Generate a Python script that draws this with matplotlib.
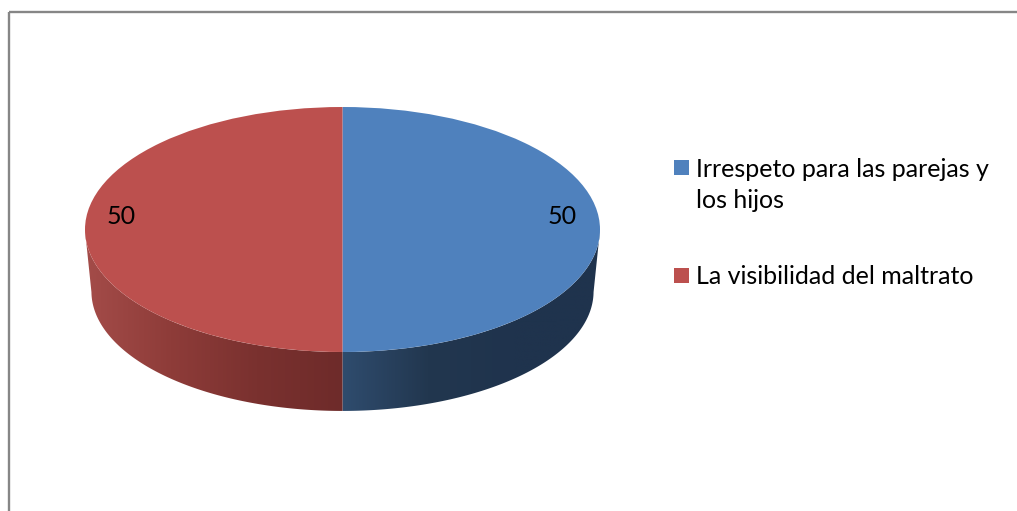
import numpy as np
import matplotlib.pyplot as plt
from matplotlib.colors import LinearSegmentedColormap
from matplotlib.patches import Rectangle

W, H = 1017, 511

# Data
categories = ['Irrespeto para las parejas y\nlos hijos', 'La visibilidad del maltrato']
values = [50, 50]

colors = ['#4F81BD', '#BC504E']
# side of the pie, left to right over each slice
side_blue = ['#2F4C6E', '#22374F', '#1F334D', '#1F334D']
side_red = ['#A44C49', '#8E3C39', '#7A312F', '#6E2B2A']

plt.rcParams['font.family'] = ['Lato', 'DejaVu Sans']

fig = plt.figure(figsize=(W / 100, H / 100), dpi=100, facecolor='white')


def px_axes(left, top, right, bottom):
    return fig.add_axes([left / W, 1 - bottom / H, (right - left) / W, (bottom - top) / H])


# Overlay in pixel coordinates for frame, legend and labels
bg = px_axes(0, 0, W, H)
bg.set_xlim(0, W)
bg.set_ylim(H, 0)
bg.axis('off')
bg.set_zorder(3)
bg.plot([9, 9], [H, 12], color='#868686', lw=1.7, solid_capstyle='butt')
bg.plot([9, W], [12, 12], color='#868686', lw=1.7, solid_capstyle='butt')

# Top face: unit pie stretched to the ellipse
cx, cy, a, b = 342.5, 229.5, 257.5, 122.5
extra = 65
ax = px_axes(cx - a, cy - b, cx + a, cy + b + extra)
wedges, _ = ax.pie(values, colors=colors, startangle=90, counterclock=False, radius=1)
ax.set_aspect('auto')
ybottom = -1 - extra / b

# Bottom rim is a little narrower, as in the perspective of the original
drop = 62 / b
shrink = 0.975

for wedge, stops in zip(wedges, [side_blue, side_red]):
    t = np.radians(np.linspace(wedge.theta1, wedge.theta2, 300))
    t = t[np.sin(t) <= 1e-9]
    t = t[np.argsort(np.cos(t))]
    xt, yt = np.cos(t), np.sin(t)
    xb, yb = shrink * xt, shrink * yt - drop
    poly_x = np.r_[xt, xb[::-1]]
    poly_y = np.r_[yt, yb[::-1]]
    outline, = ax.fill(poly_x, poly_y, color='none', lw=0)
    cmap = LinearSegmentedColormap.from_list('side', stops)
    img = ax.imshow(np.linspace(0, 1, 256)[None, :], cmap=cmap, aspect='auto', zorder=0,
                    extent=[poly_x.min(), poly_x.max(), poly_y.min(), poly_y.max()])
    img.set_clip_path(outline)
ax.set_xlim(-1, 1)
ax.set_ylim(ybottom, 1)

# Data labels
label_pos = [(562, 217), (121, 217)]
for (x, y), v in zip(label_pos, values):
    bg.text(x, y, str(v), fontsize=18, color='black', ha='center', va='center', zorder=5)

# Legend
swatch_y = [160, 268]
text_y = [185, 277]
for y, ty, col, cat in zip(swatch_y, text_y, colors, categories):
    bg.add_patch(Rectangle((674, y), 15, 15, color=col, lw=0))
    bg.text(696, ty, cat, fontsize=18, color='black', ha='left', va='center', linespacing=1.41)

fig.savefig('out.png', dpi=100)
